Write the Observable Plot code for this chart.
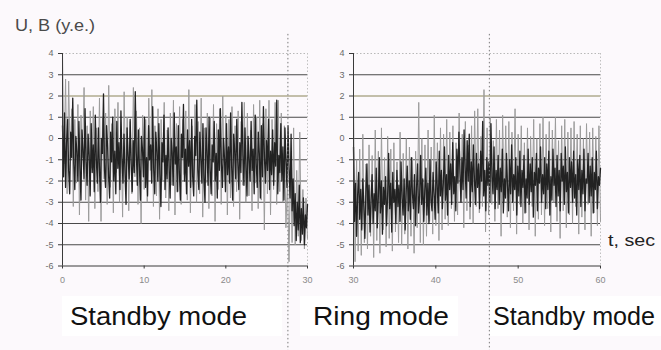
<!DOCTYPE html>
<html><head><meta charset="utf-8">
<script src="https://cdn.jsdelivr.net/npm/d3@7"></script>
<script src="https://cdn.jsdelivr.net/npm/@observablehq/plot@0.6"></script>
<style>
html,body{margin:0;padding:0;background:#fcf9fc;}
#wrap{position:relative;width:661px;height:350px;overflow:hidden;font-family:"Liberation Sans",Arial,sans-serif;}
#wrap > svg{position:absolute;top:0;}
</style></head><body><div id="wrap"></div>
<script>
// ---- data ----
const leftRange = [0, 30];
const rightRange = [30, 60];
const yTicks = [-6, -5, -4, -3, -2, -1, 0, 1, 2, 3, 4];
const leftXTicks = [0, 10, 20, 30];
const rightXTicks = [30, 40, 50, 60];
const leftSeparator = [27.6];
const rightSeparator = [46.5];
const yTitle = "U, B (y.e.)";
const xTitle = "t, sec";
const modeLabels = ["Standby mode", "Ring mode", "Standby mode"];

// dark series (B), left panel t = 0..30
const leftDark = [
 0.6,-1.8,1.2,-2.3,-0.2,0.9,-1.5,-2.6,0.3,-0.9,1.9,-1.2,-2.4,0.1,-0.6,-2.0,0.8,-1.4,-2.9,0.4,
 -0.5,-1.9,1.4,-1.1,-2.2,0.2,-0.8,-2.7,0.7,-1.6,-0.3,-2.5,1.1,-1.0,-2.1,0.5,-1.3,-3.0,0.0,-0.7,
 2.1,-1.5,-2.3,0.6,-0.4,-1.8,-2.8,0.3,-1.1,1.0,-2.0,-0.6,-2.6,0.8,-1.4,-0.2,-2.4,1.3,-0.9,-2.1,
 0.2,-1.7,-3.1,0.5,-0.8,-1.9,0.9,-1.2,-2.5,-0.1,-1.6,2.2,-0.7,-2.2,0.4,-1.3,-2.9,0.1,-0.5,-1.8,
 1.0,-2.3,-0.9,-2.7,0.6,-1.0,-0.3,-2.1,1.5,-1.5,-2.6,0.3,-0.6,-2.0,0.7,-1.7,-3.2,-0.2,-1.1,1.1,
 -2.4,-0.8,-1.9,0.5,-1.4,-2.8,0.0,-0.7,-2.2,1.2,-1.2,-0.4,-2.5,0.6,-1.6,-2.9,0.2,-0.9,1.6,-2.0,
 -0.5,-2.6,0.4,-1.3,-0.1,-2.3,0.9,-1.8,-2.7,0.1,-0.8,1.8,-1.5,-2.4,0.3,-1.0,-2.1,0.7,-1.9,-3.0,
 0.5,-0.6,-2.2,1.0,-1.4,-2.6,-0.3,-1.1,0.8,-2.0,-0.7,-2.8,0.4,-1.5,1.4,-1.2,-2.3,0.0,-0.9,-2.5,
 0.7,-1.7,-0.4,-2.1,1.2,-1.3,-2.9,0.2,-0.6,-1.9,0.9,-1.1,-2.4,-0.2,-1.6,1.7,-0.8,-2.2,0.5,-1.4,
 -2.7,0.1,-1.0,-2.0,0.8,-1.5,-0.5,-2.6,1.1,-1.2,-2.3,0.3,-0.7,-2.8,0.6,-1.8,1.5,-0.9,-2.1,-0.1,
 -1.5,0.9,-2.4,-0.6,-1.7,0.4,-2.2,-0.2,-1.3,1.8,-2.6,-0.8,-1.6,0.7,-2.0,-0.4,-2.9,0.5,-1.1,-2.3,
 0.6,-1.4,-2.8,0.2,-3.4,-1.9,-4.1,-2.6,-4.8,-3.0,-4.3,-2.2,-4.9,-3.3,-4.5,-2.8,-5.0,-3.6,-4.2,-3.1
];
// grey series (U), left panel t = 0..30
const leftGrey = [
 4.0,-1.2,2.8,-2.6,2.7,-1.0,1.4,-3.2,0.9,-2.1,1.6,-3.6,1.1,-0.9,2.4,-2.9,0.6,-3.9,1.3,-1.4,
 1.5,-3.3,0.5,-2.5,1.9,-3.9,1.0,-1.9,1.2,-3.1,2.5,-2.3,0.7,-3.5,1.4,-1.6,1.7,-3.0,0.3,-3.7,
 2.2,-2.1,1.0,-3.4,0.8,-2.6,2.4,-1.8,1.3,-3.1,0.5,-4.0,1.1,-2.4,0.9,-3.0,1.9,-1.5,2.3,-3.2,
 0.6,-2.7,1.4,-3.8,0.9,-2.0,1.7,-2.8,0.4,-3.4,1.2,-2.2,1.8,-3.6,0.7,-2.5,1.5,-3.1,0.9,-1.7,
 1.3,-2.9,2.3,-3.5,0.6,-2.3,1.6,-3.0,0.8,-2.6,1.9,-3.7,0.5,-2.1,1.2,-3.3,1.0,-2.7,1.6,-3.9,
 0.7,-2.4,1.4,-3.1,2.0,-2.0,1.1,-3.6,0.9,-2.8,1.5,-3.2,0.6,-2.5,1.3,-3.8,0.8,-2.2,1.7,-3.0,
 1.2,-2.7,0.4,-3.4,1.6,-2.1,1.0,-3.3,1.8,-2.9,0.7,-4.3,1.4,-2.6,1.8,-3.6,0.9,-2.4,1.7,-3.1,
 1.8,-2.5,1.2,-3.0,0.6,-4.2,-2.0,-5.8,-1.0,-4.9,0.5,-5.0,-1.5,-4.6,0.3,-4.8,-2.4,-5.2,-2.8,-4.7
];
// dark series (B), right panel t = 30..60
const rightDark = [
 -0.4,-3.9,-2.1,-4.6,-2.7,-1.6,-3.8,-2.4,-4.3,-1.9,-3.2,-4.7,-2.5,-1.2,-3.6,-2.2,-4.4,-2.9,-1.7,-4.0,
 -2.6,-3.4,-1.4,-4.2,-2.8,-0.9,-3.5,-2.0,-4.5,-2.3,-3.1,-1.8,-4.1,-2.7,-0.7,-3.3,-2.1,-4.4,-1.6,-3.0,
 -2.4,-4.0,-1.5,-3.2,-2.2,-3.9,-1.1,-2.8,-3.6,-1.9,-4.3,-2.5,-1.3,-3.4,-2.0,-3.8,-0.9,-2.6,-3.3,-1.7,
 -4.1,-2.3,-1.2,-3.5,-2.7,-0.8,-3.1,-1.9,-3.9,-2.4,-1.4,-3.6,-2.1,-4.0,-1.0,-2.9,-3.4,-1.6,-2.6,-3.8,
 -1.1,-2.2,-3.5,-0.6,-2.7,-1.5,-3.3,-2.0,-0.4,-2.9,-1.7,-3.6,-0.8,-2.4,-1.2,-3.1,-0.2,-2.6,-1.8,-3.4,
 -0.5,-2.1,0.3,-1.6,-3.0,-0.9,-2.4,0.4,-1.3,-2.8,-0.1,-2.0,0.2,-3.2,-1.1,-2.5,-0.3,-1.9,-3.1,-0.7,
 -2.3,-1.2,-3.3,-0.6,-2.0,0.8,-2.7,-1.5,-3.4,-0.9,-2.2,-1.1,-3.0,0.7,-1.8,-2.6,-0.4,-3.3,-1.5,-2.4,
 -0.8,-3.1,-1.4,-2.5,-0.5,-3.5,-1.9,-2.8,-0.7,-2.2,-3.4,-1.0,-2.6,-0.3,-3.0,-1.7,-2.4,-0.9,-3.6,-1.3,
 -2.7,-0.6,-3.2,-1.5,-2.3,-0.8,-3.5,-1.9,-2.8,-0.5,-3.1,-1.2,-2.5,-0.9,-3.7,-1.6,-2.2,-0.7,-3.4,-1.4,
 -2.1,-0.4,-3.0,-1.7,-2.6,-0.9,-3.3,-1.2,-2.4,-0.6,-3.6,-1.8,-2.9,-0.5,-2.2,-1.4,-3.2,-0.8,-2.7,-1.5,
 -3.4,-0.7,-2.0,-1.3,-3.1,-0.4,-2.5,-1.6,-3.5,-0.9,-2.3,-1.1,-3.0,-0.6,-2.8,-1.7,-3.6,-1.0,-2.4,-0.8,
 -3.2,-1.5,-2.6,-0.5,-3.4,-1.9,-2.1,-0.7,-3.0,-1.3,-2.7,-0.9,-3.5,-1.6,-2.4,-0.6,-3.3,-1.8,-2.2,-1.4
];
// grey series (U), right panel t = 30..60
const rightGrey = [
 1.7,-5.8,-1.0,-5.3,-0.5,-5.5,0.2,-4.9,-1.2,-5.2,-0.3,-4.6,-0.8,-5.6,0.4,-4.8,-0.6,-5.4,0.5,-4.3,
 -0.9,-5.1,0.1,-4.7,-0.5,-5.3,-0.2,-4.4,-1.1,-4.9,0.3,-5.0,-0.7,-4.5,0.0,-5.2,-0.4,-4.6,-0.9,-5.4,
 -0.6,-4.2,1.7,-4.9,0.0,-5.0,-0.3,-4.6,0.4,-3.9,-0.4,-4.5,1.1,-4.1,-0.2,-4.8,0.5,-4.3,0.2,-3.8,
 0.9,-4.1,0.3,-3.3,0.6,-3.9,-0.2,-3.6,1.2,-3.0,0.2,-4.2,0.8,-3.4,-0.3,-3.8,0.6,-4.0,1.3,-3.2,
 1.4,-3.5,0.1,-3.2,2.3,-4.4,0.5,-3.6,1.0,-3.1,-0.1,-3.9,0.9,-3.3,0.4,-4.6,1.1,-3.0,0.6,-3.7,
 0.8,-4.2,0.3,-3.4,1.4,-4.5,0.2,-3.1,0.6,-4.0,-0.2,-3.5,0.5,-4.3,0.1,-3.2,0.9,-4.6,0.0,-3.8,
 0.7,-3.6,1.0,-4.1,0.2,-3.3,0.8,-4.4,0.4,-3.0,1.0,-3.9,-0.1,-4.7,0.6,-3.4,0.9,-4.2,0.3,-3.6,
 0.5,-4.0,0.8,-3.2,0.2,-4.5,0.6,-3.7,0.0,-4.3,0.7,-3.1,0.3,-4.6,0.5,-3.5,0.1,-4.1,0.6,-3.9
];

// ---- helpers ----
function series(vals, range) {
  const dt = (range[1] - range[0]) / (vals.length - 1);
  return vals.map((v, i) => ({t: range[0] + i * dt, v}));
}

function panel(range, dark, grey, xTicks, sep, width, ml, mr) {
  const inner = yTicks.filter(d => d > -6 && d < 4 && d !== 2);
  return Plot.plot({
    width, height: 350,
    marginLeft: ml, marginRight: mr, marginTop: 53, marginBottom: 84.5,
    x: {domain: range},
    y: {domain: [-6, 4]},
    style: {background: "transparent", overflow: "visible", fontFamily: "Liberation Sans, Arial, sans-serif"},
    marks: [
      Plot.ruleY(inner, {stroke: "#4a4a4a", strokeWidth: 1}),
      Plot.ruleY([2], {stroke: "#8a8458", strokeWidth: 1}),
      Plot.ruleY([4], {stroke: "#b8b8b8", strokeDasharray: "1.5,2"}),
      Plot.ruleX([range[1]], {stroke: "#c0c0c0", strokeDasharray: "1.5,2"}),
      Plot.line(series(grey, range), {x: "t", y: "v", stroke: "#9c9c9c", strokeWidth: 1}),
      Plot.line(series(dark, range), {x: "t", y: "v", stroke: "#222222", strokeWidth: 1.3}),
      Plot.ruleX(sep, {y1: 4.9, y2: -10, stroke: "#7a7a7a", strokeDasharray: "1.5,2.5"}),
      Plot.ruleX([range[0]], {stroke: "#3a3a3a"}),
      Plot.ruleY([-6], {stroke: "#3a3a3a"}),
      Plot.axisY({ticks: yTicks, tickFormat: d => String(d), tickSize: 4, tickPadding: 5,
                  fontSize: 9, fill: "#6a6a6a", stroke: "#3a3a3a", label: null}),
      Plot.axisX({ticks: xTicks, tickFormat: d => String(d), tickSize: 3, tickPadding: 8,
                  fontSize: 9, fill: "#8a8a8a", stroke: "#3a3a3a", label: null})
    ]
  });
}

const wrap = document.getElementById("wrap");

// overlay with titles and mode labels (underneath the plots)
const ov = d3.select(wrap).append("svg").attr("width", 661).attr("height", 350)
  .style("left", "0px").style("font-family", "Liberation Sans, Arial, sans-serif");
const boxes = [[62, 296, 220, 40], [300, 296, 158, 40], [490, 296, 171, 40]];
boxes.forEach(b => ov.append("rect").attr("x", b[0]).attr("y", b[1]).attr("width", b[2]).attr("height", b[3]).attr("fill", "#ffffff"));
ov.append("text").attr("x", 15).attr("y", 31).attr("font-size", 16).attr("fill", "#4a4a4a")
  .attr("textLength", 80).attr("lengthAdjust", "spacingAndGlyphs").text(yTitle);
ov.append("text").attr("x", 608).attr("y", 246).attr("font-size", 17).attr("fill", "#222")
  .attr("textLength", 47).attr("lengthAdjust", "spacingAndGlyphs").text(xTitle);
const labelPos = [[70, 177], [313, 136], [493, 162]];
modeLabels.forEach((t, i) => ov.append("text").attr("x", labelPos[i][0]).attr("y", 325)
  .attr("font-size", 25).attr("fill", "#111").attr("textLength", labelPos[i][1])
  .attr("lengthAdjust", "spacingAndGlyphs").text(t));

const left = panel(leftRange, leftDark, leftGrey, leftXTicks, leftSeparator, 330, 62, 23);
left.style.left = "0px";
wrap.appendChild(left);
const right = panel(rightRange, rightDark, rightGrey, rightXTicks, rightSeparator, 331, 23, 61);
right.style.left = "330px";
wrap.appendChild(right);
</script>
</body></html>
